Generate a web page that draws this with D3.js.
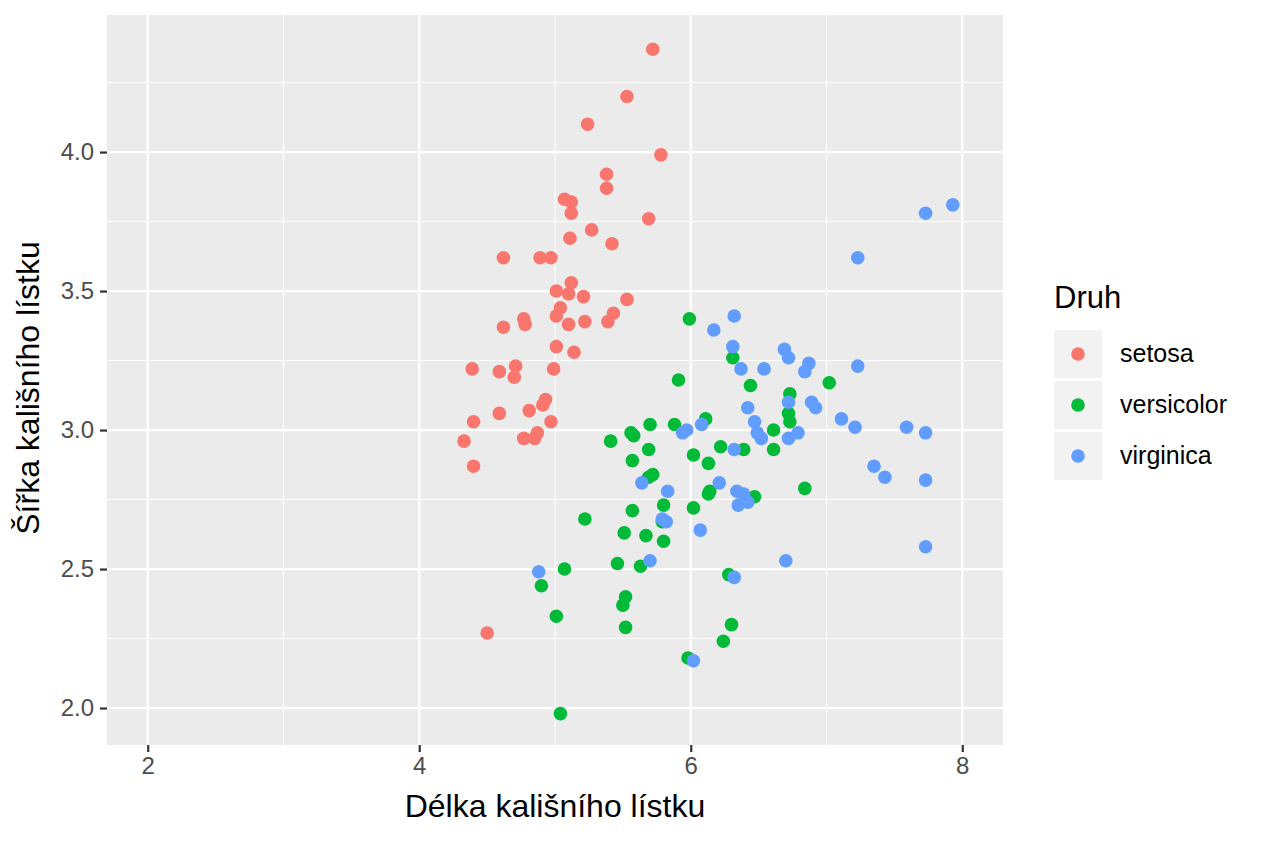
<!DOCTYPE html>
<html>
<head>
<meta charset="utf-8">
<script src="https://cdn.jsdelivr.net/npm/d3@7"></script>
<style>
  body { margin: 0; background: #fff; }
  text { font-family: "Liberation Sans", Arial, sans-serif; }
</style>
</head>
<body>
<script>
// values (jittered iris sepals)
var species = ['setosa', 'versicolor', 'virginica'];
var speciesColors = ['#F8766D', '#00BA38', '#619CFF'];

var setosaX = [5.72,5.53,5.24,5.78,5.38,5.38,5.07,5.12,5.12,5.69,5.27,5.11,5.42,4.62,4.89,4.97,5.12,5.01,5.10,5.21,
  5.53,5.04,5.01,5.43,5.39,4.77,4.78,4.62,5.10,5.22,5.01,5.14,4.39,4.59,4.71,4.70,4.99,4.93,4.91,4.59,
  4.81,4.40,4.97,4.33,4.77,4.85,4.87,4.40,4.50];
var setosaY = [4.37,4.20,4.10,3.99,3.92,3.87,3.83,3.82,3.78,3.76,3.72,3.69,3.67,3.62,3.62,3.62,3.53,3.50,3.49,3.48,
  3.47,3.44,3.41,3.42,3.39,3.40,3.38,3.37,3.38,3.39,3.30,3.28,3.22,3.21,3.23,3.19,3.22,3.11,3.09,3.06,
  3.07,3.03,3.03,2.96,2.97,2.97,2.99,2.87,2.27];

var versicolorX = [5.99,6.31,5.91,6.44,6.73,6.72,6.73,6.11,5.88,5.70,5.56,5.58,5.41,5.69,5.57,6.02,6.13,6.22,6.39,6.61,
  6.61,5.69,5.72,6.14,6.13,6.47,6.84,7.02,5.22,5.57,5.80,6.02,5.51,5.67,5.80,5.79,5.46,5.63,5.07,
  4.90,5.52,5.50,5.01,5.52,6.28,6.30,6.24,5.98,5.04];
var versicolorY = [3.40,3.26,3.18,3.16,3.13,3.06,3.03,3.04,3.02,3.02,2.99,2.98,2.96,2.93,2.89,2.91,2.88,2.94,2.93,3.00,
  2.93,2.83,2.84,2.78,2.77,2.76,2.79,3.17,2.68,2.71,2.73,2.72,2.63,2.62,2.60,2.67,2.52,2.51,2.50,
  2.44,2.40,2.37,2.33,2.29,2.48,2.30,2.24,2.18,1.98];

var virginicaX = [6.32,6.17,6.31,6.69,6.72,6.37,6.54,6.87,6.84,7.23,7.23,7.73,7.93,6.72,6.89,6.92,7.11,7.21,7.59,7.73,
  6.79,6.72,7.35,7.43,7.73,7.73,6.70,6.42,6.47,6.49,6.52,6.32,5.94,5.97,6.08,5.64,5.83,6.21,6.34,6.39,
  6.35,6.42,5.82,5.79,6.07,5.70,4.88,6.32,6.02];
var virginicaY = [3.41,3.36,3.30,3.29,3.26,3.22,3.22,3.24,3.21,3.23,3.62,3.78,3.81,3.10,3.10,3.08,3.04,3.01,3.01,2.99,
  2.99,2.97,2.87,2.83,2.82,2.58,2.53,3.08,3.03,2.99,2.97,2.93,2.99,3.00,3.02,2.81,2.78,2.81,2.78,2.77,
  2.73,2.74,2.67,2.68,2.64,2.53,2.49,2.47,2.17];

var xTicks = [2, 4, 6, 8];
var xMinor = [3, 5, 7];
var yTicks = [2.0, 2.5, 3.0, 3.5, 4.0];
var yMinor = [2.25, 2.75, 3.25, 3.75, 4.25];
var xLimits = [1.7, 8.3];
var yLimits = [1.867, 4.493];

var width = 1264;
var height = 843;
var panel = {left: 107, right: 1003, top: 15, bottom: 745};
var pointRadius = 6.8;

var svg = d3.select('body').append('svg')
  .attr('width', width)
  .attr('height', height);

var x = d3.scaleLinear().domain(xLimits).range([panel.left, panel.right]);
var y = d3.scaleLinear().domain(yLimits).range([panel.bottom, panel.top]);

// panel background
svg.append('rect')
  .attr('x', panel.left)
  .attr('y', panel.top)
  .attr('width', panel.right - panel.left)
  .attr('height', panel.bottom - panel.top)
  .attr('fill', '#EBEBEB');

// minor grid first, then major
svg.selectAll('.xminor').data(xMinor).enter().append('line')
  .attr('x1', function(d) { return x(d); }).attr('x2', function(d) { return x(d); })
  .attr('y1', panel.top).attr('y2', panel.bottom)
  .attr('stroke', '#fff').attr('stroke-width', 1.1);
svg.selectAll('.yminor').data(yMinor).enter().append('line')
  .attr('y1', function(d) { return y(d); }).attr('y2', function(d) { return y(d); })
  .attr('x1', panel.left).attr('x2', panel.right)
  .attr('stroke', '#fff').attr('stroke-width', 1.1);
svg.selectAll('.xmajor').data(xTicks).enter().append('line')
  .attr('x1', function(d) { return x(d); }).attr('x2', function(d) { return x(d); })
  .attr('y1', panel.top).attr('y2', panel.bottom)
  .attr('stroke', '#fff').attr('stroke-width', 2.2);
svg.selectAll('.ymajor').data(yTicks).enter().append('line')
  .attr('y1', function(d) { return y(d); }).attr('y2', function(d) { return y(d); })
  .attr('x1', panel.left).attr('x2', panel.right)
  .attr('stroke', '#fff').attr('stroke-width', 2.2);

// axes
var xAxis = d3.axisBottom(x).tickValues(xTicks).tickSize(7).tickPadding(5)
  .tickFormat(d3.format('d'));
var yAxis = d3.axisLeft(y).tickValues(yTicks).tickSize(7).tickPadding(6)
  .tickFormat(d3.format('.1f'));

var gx = svg.append('g')
  .attr('transform', 'translate(0,' + panel.bottom + ')')
  .call(xAxis);
var gy = svg.append('g')
  .attr('transform', 'translate(' + panel.left + ',0)')
  .call(yAxis);

[gx, gy].forEach(function(g) {
  g.select('.domain').remove();
  g.selectAll('.tick line').attr('stroke', '#333').attr('stroke-width', 2.2);
  g.selectAll('.tick text')
    .attr('fill', '#4D4D4D')
    .style('font-size', '24px')
    .style('font-family', '"Liberation Sans", Arial, sans-serif');
});

// points, drawn species by species
var seriesX = [setosaX, versicolorX, virginicaX];
var seriesY = [setosaY, versicolorY, virginicaY];
species.forEach(function(s, i) {
  svg.append('g').selectAll('circle')
    .data(d3.zip(seriesX[i], seriesY[i]))
    .enter().append('circle')
    .attr('cx', function(d) { return x(d[0]); })
    .attr('cy', function(d) { return y(d[1]); })
    .attr('r', pointRadius)
    .attr('fill', speciesColors[i]);
});

// axis titles
svg.append('text')
  .attr('x', (panel.left + panel.right) / 2)
  .attr('y', 817)
  .attr('text-anchor', 'middle')
  .style('font-size', '32px')
  .text('Délka kališního lístku');

svg.append('text')
  .attr('transform', 'translate(39,' + ((panel.top + panel.bottom) / 2 + 8) + ') rotate(-90)')
  .attr('text-anchor', 'middle')
  .style('font-size', '32px')
  .text('Šířka kališního lístku');

// legend
var legend = svg.append('g').attr('transform', 'translate(1054,0)');
legend.append('text')
  .attr('x', 0)
  .attr('y', 308)
  .style('font-size', '31px')
  .text('Druh');

var keys = legend.selectAll('.key').data(species).enter().append('g')
  .attr('transform', function(d, i) { return 'translate(0,' + (330 + i * 51) + ')'; });
keys.append('rect')
  .attr('width', 48)
  .attr('height', 48)
  .attr('fill', '#F2F2F2');
keys.append('circle')
  .attr('cx', 24)
  .attr('cy', 24)
  .attr('r', pointRadius)
  .attr('fill', function(d, i) { return speciesColors[i]; });
keys.append('text')
  .attr('x', 66)
  .attr('y', 32)
  .style('font-size', '25px')
  .text(function(d) { return d; });
</script>
</body>
</html>
